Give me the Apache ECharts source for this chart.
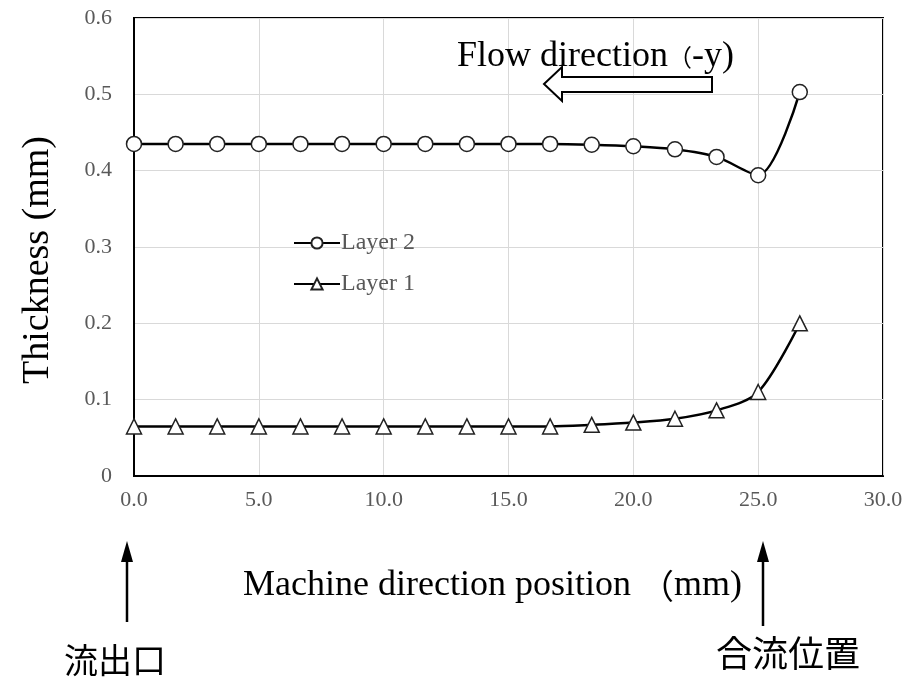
<!DOCTYPE html>
<html><head><meta charset="utf-8">
<script src="https://cdn.jsdelivr.net/npm/echarts@6/dist/echarts.min.js"></script>
<style>html,body{margin:0;padding:0;background:#fff}#c{width:906px;height:681px}</style>
</head><body><div id="c"></div>
<script>
const positions = [0, 1.667, 3.333, 5, 6.667, 8.333, 10, 11.667, 13.333, 15, 16.667, 18.333, 20, 21.667, 23.333, 25, 26.667];
const layer2 = [0.435, 0.435, 0.435, 0.435, 0.435, 0.435, 0.435, 0.435, 0.435, 0.435, 0.435, 0.434, 0.432, 0.428, 0.418, 0.394, 0.503];
const layer1 = [0.065, 0.065, 0.065, 0.065, 0.065, 0.065, 0.065, 0.065, 0.065, 0.065, 0.065, 0.067, 0.070, 0.075, 0.086, 0.110, 0.200];
const xTicks = {min: 0, max: 30, interval: 5};
const yTicks = {min: 0, max: 0.6, interval: 0.1};

const serif = '"Liberation Serif", "Times New Roman", serif';
const cjk = '"Noto Sans CJK JP", "Noto Sans CJK SC", sans-serif';
const chart = echarts.init(document.getElementById('c'));
const pairs = arr => positions.map((x, i) => [x, arr[i]]);
chart.setOption({
  animation: false,
  grid: {left: 134, right: 23, top: 18, bottom: 205, show: true, borderColor: '#000', borderWidth: 2, containLabel: false},
  legend: {
    left: 288, top: 226, orient: 'vertical', itemGap: 17, itemWidth: 46, itemHeight: 14,
    data: ['Layer 2', 'Layer 1'],
    textStyle: {fontFamily: serif, fontSize: 24, color: '#595959', padding: [0, 0, 0, -4]}
  },
  xAxis: {
    type: 'value', min: xTicks.min, max: xTicks.max, interval: xTicks.interval,
    axisLine: {show: true, lineStyle: {color: '#000', width: 2}},
    axisTick: {show: false},
    splitLine: {show: true, lineStyle: {color: '#d9d9d9', width: 1}},
    axisLabel: {fontFamily: serif, fontSize: 22, color: '#595959', margin: 13, formatter: v => v.toFixed(1)}
  },
  yAxis: {
    type: 'value', min: yTicks.min, max: yTicks.max, interval: yTicks.interval,
    axisLine: {show: true, lineStyle: {color: '#000', width: 2}},
    axisTick: {show: false},
    splitLine: {show: true, lineStyle: {color: '#d9d9d9', width: 1}},
    axisLabel: {fontFamily: serif, fontSize: 22, color: '#595959', margin: 22, formatter: v => v === 0 ? '0' : v.toFixed(1)}
  },
  series: [
    {name: 'Layer 2', type: 'line', data: pairs(layer2), smooth: 0.3, symbol: 'circle', symbolSize: 15,
     lineStyle: {color: '#000', width: 2.5}, itemStyle: {color: '#fff', borderColor: '#222', borderWidth: 1.5}, z: 3},
    {name: 'Layer 1', type: 'line', data: pairs(layer1), smooth: 0.3, symbol: 'triangle', symbolSize: 15,
     lineStyle: {color: '#000', width: 2.5}, itemStyle: {color: '#fff', borderColor: '#222', borderWidth: 1.5}, z: 3}
  ],
  graphic: [
    {type: 'text', x: 38, y: 260, rotation: Math.PI / 2,
     style: {text: 'Thickness (mm)', font: '38px ' + serif, fill: '#000', align: 'center', verticalAlign: 'middle'}, z: 10},
    {type: 'text', left: 457, top: 39,
     style: {text: '{a|Flow direction}{b|（}{a|-y)}', fill: '#000',
       rich: {a: {fontFamily: serif, fontSize: 36, fill: '#000'}, b: {fontFamily: cjk, fontSize: 24, fill: '#000'}}}, z: 10},
    {type: 'polygon', shape: {points: [[544, 84], [562, 67], [562, 77], [712, 77], [712, 92], [562, 92], [562, 101]]},
     style: {fill: '#fff', stroke: '#000', lineWidth: 2}, z: 11},
    {type: 'text', left: 243, top: 568,
     style: {text: '{a|Machine direction position }{b|（}{a|mm)}', fill: '#000',
       rich: {a: {fontFamily: serif, fontSize: 36, fill: '#000'}, b: {fontFamily: cjk, fontSize: 34, fill: '#000'}}}, z: 10},
    {type: 'line', shape: {x1: 127, y1: 560, x2: 127, y2: 622}, style: {stroke: '#000', lineWidth: 2.5}},
    {type: 'polygon', shape: {points: [[127, 541], [121, 562], [133, 562]]}, style: {fill: '#000'}},
    {type: 'line', shape: {x1: 763, y1: 560, x2: 763, y2: 626}, style: {stroke: '#000', lineWidth: 2.5}},
    {type: 'polygon', shape: {points: [[763, 541], [757, 562], [769, 562]]}, style: {fill: '#000'}},
    {type: 'text', left: 64, top: 643, style: {text: '流出口', font: '34px ' + cjk, fill: '#000'}},
    {type: 'text', left: 716, top: 635, style: {text: '合流位置', font: '36px ' + cjk, fill: '#000'}}
  ]
});
</script></body></html>
